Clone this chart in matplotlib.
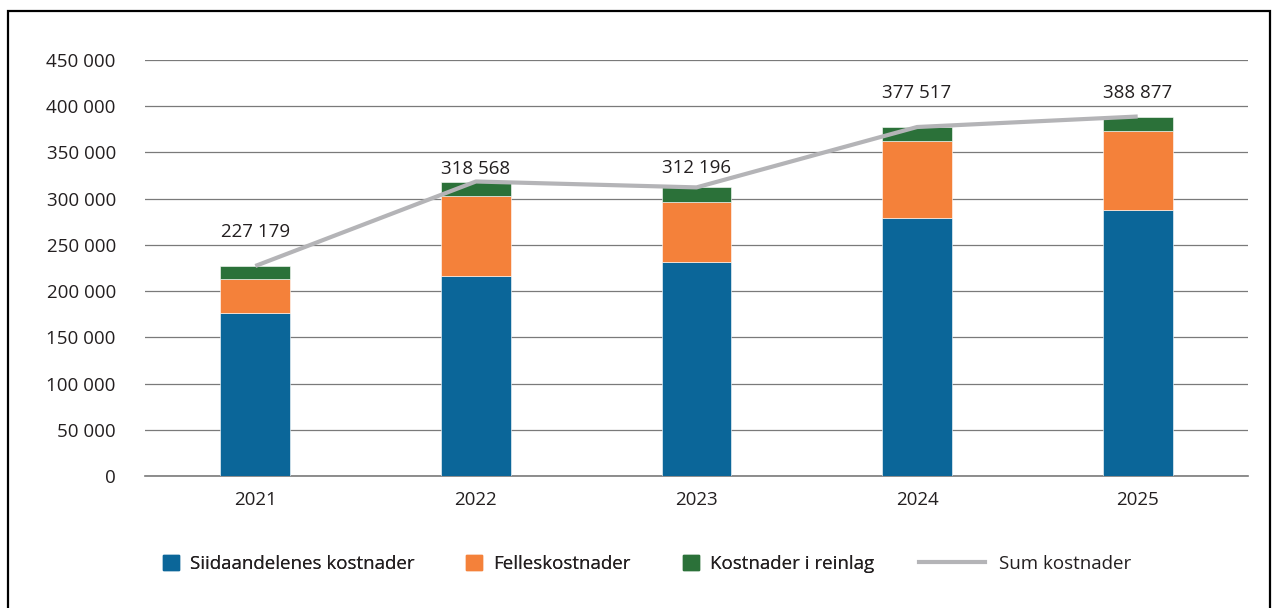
import matplotlib
matplotlib.use("Agg")
import matplotlib.pyplot as plt
from matplotlib.patches import Patch, Rectangle
from matplotlib.lines import Line2D
from matplotlib.ticker import FuncFormatter, MultipleLocator
import numpy as np

plt.rcParams['font.family'] = ['Open Sans', 'DejaVu Sans']
plt.rcParams['text.color'] = '#231f20'

# data
years = ['2021', '2022', '2023', '2024', '2025']
siida = [176300, 216700, 231800, 279400, 288100]
felles = [37100, 86500, 64600, 83300, 85400]
reinlag = [13779, 15368, 15796, 14817, 15377]
totals = [227179, 318568, 312196, 377517, 388877]
# vertical offset (points) of each total label above its line point
label_offsets = [24.5, 9, 14, 24.5, 17]

blue = '#0b6699'
orange = '#f4813a'
green = '#2b7139'
grey = '#b4b4b7'
fs = 13.5

def fmt(v):
    return f"{v:,.0f}".replace(",", " ")

fig = plt.figure(figsize=(12.73, 6.08), dpi=100)
ax = fig.add_axes([145/1273, 1-476/608, (1248-145)/1273, (476-60)/608])

x = np.arange(len(years))
w = 0.316
ax.bar(x, siida, w, color=blue, edgecolor='white', linewidth=0.4, zorder=2)
ax.bar(x, felles, w, bottom=siida, color=orange, edgecolor='white', linewidth=0.4, zorder=2)
bot = np.array(siida) + np.array(felles)
ax.bar(x, reinlag, w, bottom=bot, color=green, edgecolor='white', linewidth=0.4, zorder=2)
ax.plot(x, totals, color=grey, linewidth=3, zorder=3, solid_capstyle='butt')

for xi, t, off in zip(x, totals, label_offsets):
    ax.annotate(fmt(t), (xi, t), xytext=(0, off), textcoords='offset points',
                ha='center', va='center', fontsize=fs)

ax.set_xlim(-0.5, 4.5)
ax.set_ylim(0, 450000)
ax.yaxis.set_major_locator(MultipleLocator(50000))
ax.yaxis.set_major_formatter(FuncFormatter(lambda v, p: fmt(v)))
ax.set_xticks(x)
ax.set_xticklabels(years)
ax.tick_params(axis='both', length=0, labelsize=fs, colors='#231f20')
ax.tick_params(axis='y', pad=21)
ax.tick_params(axis='x', pad=11)
ax.grid(axis='y', color='#7a7a7a', linewidth=0.9, zorder=0)
ax.axhline(0, color='#7a7a7a', linewidth=1.2, zorder=1, clip_on=False)
ax.set_axisbelow(True)
for s in ax.spines.values():
    s.set_visible(False)

# legend: three square patches, then the line with a longer handle
h1 = [Patch(color=blue), Patch(color=orange), Patch(color=green)]
leg1 = fig.legend(h1, ['Siidaandelenes kostnader', 'Felleskostnader', 'Kostnader i reinlag'],
                  loc='center left', bbox_to_anchor=(163/1273, 1-564/608), ncol=3,
                  frameon=False, fontsize=fs, handlelength=0.85, handleheight=0.85,
                  handletextpad=0.6, columnspacing=2.75, borderpad=0, borderaxespad=0)
leg2 = fig.legend([Line2D([], [], color=grey, linewidth=3)], ['Sum kostnader'],
                  loc='center left', bbox_to_anchor=(919/1273, 1-564/608),
                  frameon=False, fontsize=fs, handlelength=3.5,
                  handletextpad=0.75, borderpad=0, borderaxespad=0)
fig.add_artist(leg1)

# outer frame
fig.patches.append(Rectangle((8/1273, -0.05), (1270-8)/1273, 1.05-11/608,
                             transform=fig.transFigure, fill=False,
                             edgecolor='black', linewidth=1.6))

fig.savefig('out.png', dpi=100)
